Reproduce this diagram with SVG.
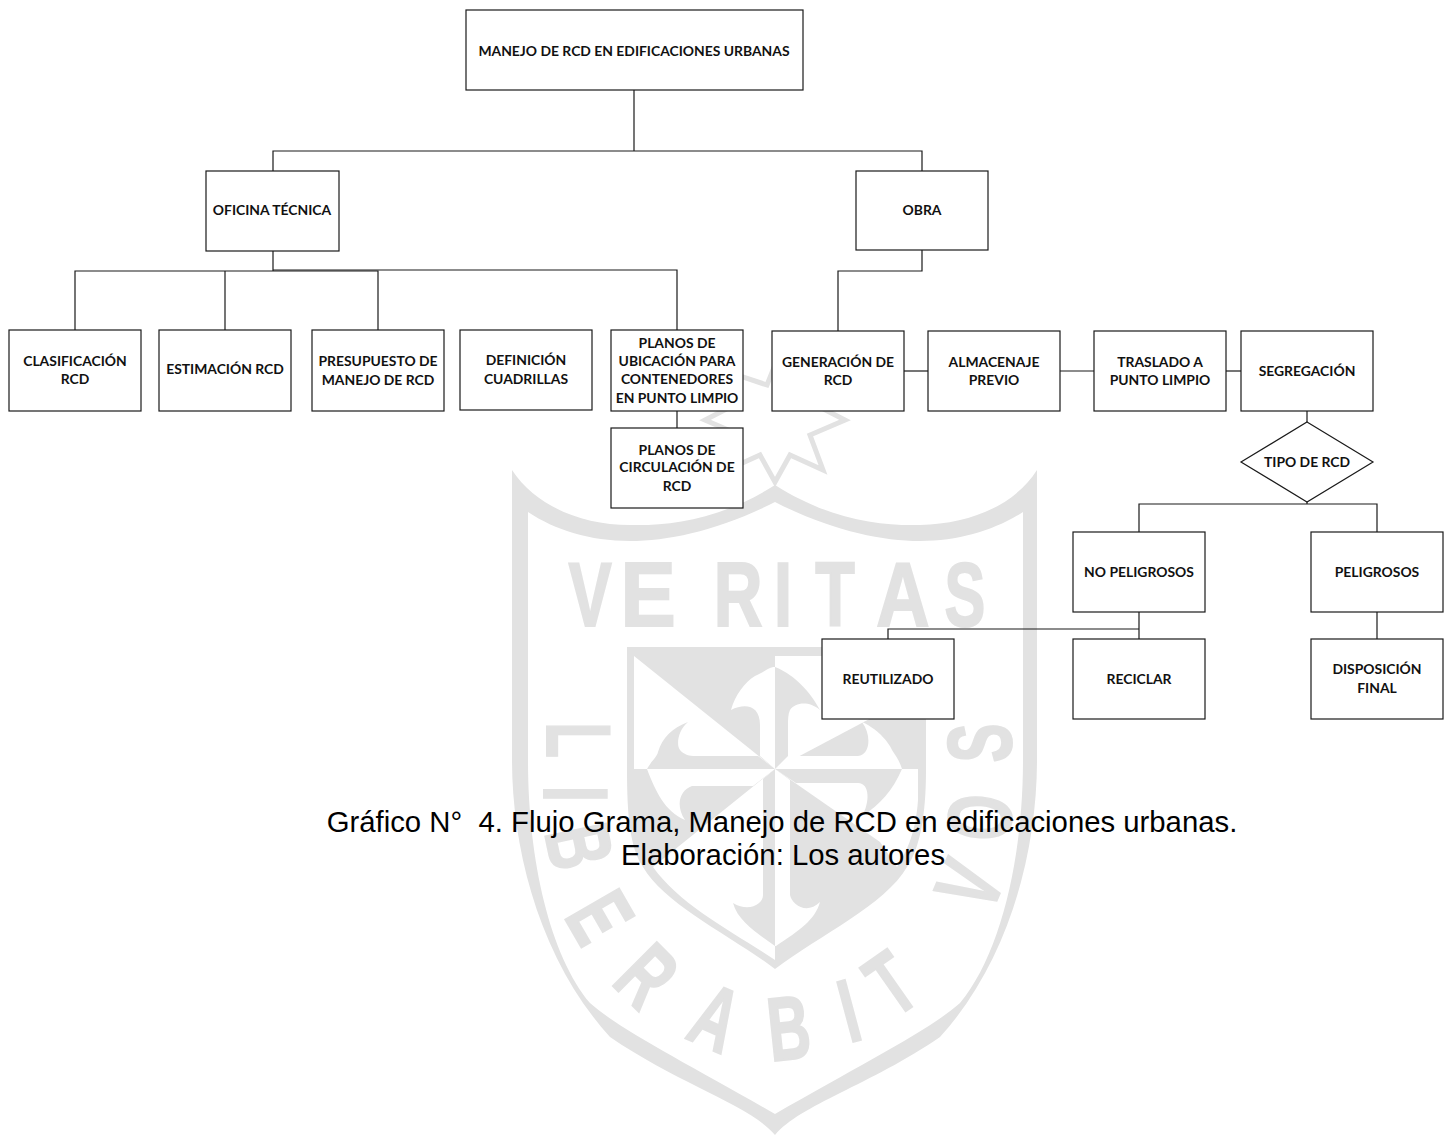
<svg xmlns="http://www.w3.org/2000/svg" width="1454" height="1135" viewBox="0 0 1454 1135">
<style>
.box{fill:#fff;stroke:#1a1a1a;stroke-width:1.2}
.t{font-family:"Lato","Noto Sans",sans-serif;font-weight:700;font-size:13.9px;fill:#111;text-anchor:middle}
.c{font-family:"Liberation Sans",Arial,sans-serif;font-size:29.3px;fill:#000;text-anchor:middle}
.wm{fill:#e2e2e2}
.wh{fill:#fff}
.wl{font-family:"Liberation Sans",Arial,sans-serif;font-weight:700;font-size:90px;fill:#e2e2e2;stroke:#e2e2e2;stroke-width:2;text-anchor:middle}
#connectors path{fill:none;stroke:#1a1a1a;stroke-width:1.2}
</style>
<rect width="1454" height="1135" fill="#fff"/>
<g id="watermark">
<path d="M775,482 L790,455 L823,470 L810,435 L845,420 L810,402 L822,372 L783,385 L775,365 L767,385 L728,372 L740,402 L705,420 L740,435 L727,470 L760,455 Z" fill="none" stroke="#e2e2e2" stroke-width="5"/>
<path class="wm" fill-rule="evenodd" d="M512,470 C535,505 580,525 630,525 C670,526 720,520 775,485 C830,520 880,526 920,525 C970,524 1015,505 1037,470 V760 C1037,850 1010,960 940,1037 C870,1085 800,1105 775,1135 C750,1105 680,1085 610,1037 C540,960 512,850 512,760 Z M528,512 V760 C528,860 550,955 590,1003 C620,1030 690,1065 775,1114 C860,1065 930,1030 960,1003 C1000,955 1023,860 1023,760 V512 C995,530 960,541 920,541 C880,541 830,530 775,502 C720,530 670,541 630,541 C590,541 555,530 528,512 Z"/>
<path class="wm" d="M627,647 H926 V770 C926,815 920,848 907,867 C885,905 820,935 775,969 C730,935 665,905 643,867 C630,848 627,815 627,770 Z"/>
<path class="wh" d="M634,656 L775,769 H634 Z"/>
<path class="wm" d="M647,769 C652,760 657,757 658,752 C662,738 672,728 688,722 C678,730 676,745 680,750 C684,755 690,756 695,756 H758 L775,769 Z"/>
<path class="wh" d="M775,667 C768,667 765,672 755,676 C745,682 735,695 731,710 C745,703 760,705 760,725 V756 L775,769 Z"/>
<path class="wh" d="M775,656 H926 V689 L775,769 Z"/>
<path class="wm" d="M775,667 C785,671 805,682 820,710 C808,700 795,703 790,710 C788,714 788,720 788,725 V756 L775,769 Z"/>
<path class="wh" d="M775,769 L795,756 H858 C870,755 872,735 862,722 C880,730 890,745 892,750 C896,756 900,762 902,769 Z"/>
<path class="wh" d="M775,769 H918 V800 C916,830 908,850 897,867 L880,842 Z"/>
<path class="wm" d="M775,769 H902 C893,790 880,805 862,816 C870,803 870,783 858,783 H796 Z"/>
<path class="wh" d="M775,769 L790,780 V895 C792,905 807,915 820,902 C815,920 800,930 776,946 L775,946 Z"/>
<path class="wh" d="M775,769 L753,786 H692 C680,790 675,805 685,820 C665,812 655,790 647,769 Z"/>
<path class="wh" d="M775,769 L653,867 C680,905 730,930 775,960 Z"/>
<path class="wm" d="M775,769 L763,779 V895 C763,905 748,912 733,903 C738,922 760,935 775,946 Z"/>
<g id="watermark-letters">
<text class="wl" transform="translate(590,626) scale(.72,1)">V</text>
<text class="wl" transform="translate(648,626) scale(.92,1)">E</text>
<text class="wl" transform="translate(738,626) scale(.75,1)">R</text>
<text class="wl" transform="translate(783,626) scale(.72,1)">I</text>
<text class="wl" transform="translate(835,626) scale(.72,1)">T</text>
<text class="wl" transform="translate(903,626) scale(.82,1)">A</text>
<text class="wl" transform="translate(965,626) scale(.68,1)">S</text>
<text class="wl" transform="translate(547,740) rotate(90) scale(.65,1)">L</text>
<text class="wl" transform="translate(544,794) rotate(90) scale(.65,1)">I</text>
<text class="wl" transform="translate(549,853) rotate(78) scale(.65,1)">B</text>
<text class="wl" transform="translate(573,933) rotate(60) scale(.65,1)">E</text>
<text class="wl" transform="translate(625,998) rotate(45) scale(.65,1)">R</text>
<text class="wl" transform="translate(703,1046) rotate(24) scale(.65,1)">A</text>
<text class="wl" transform="translate(792,1059) rotate(-6) scale(.65,1)">B</text>
<text class="wl" transform="translate(857,1041) rotate(-15) scale(.65,1)">I</text>
<text class="wl" transform="translate(909,1009) rotate(-35) scale(.65,1)">T</text>
<text class="wl" transform="translate(998,897) rotate(-67) scale(.65,1)">V</text>
<text class="wl" transform="translate(1011,820) rotate(-85) scale(.65,1)">O</text>
<text class="wl" transform="translate(1011,743) rotate(-90) scale(.65,1)">S</text>
</g>
</g>
<g id="connectors">
<path d="M634,90 V151"/>
<path d="M273,171 V151 H922 V171"/>
<path d="M273,251 V271"/>
<path d="M75,330 V271 H378 V330"/>
<path d="M225,271 V330"/>
<path d="M273,270 H677 V330"/>
<path d="M677,411 V428"/>
<path d="M922,250 V271 H838 V331"/>
<path d="M904,371 H928"/>
<path d="M1060,371 H1094"/>
<path d="M1226,371 H1241"/>
<path d="M1307,411 V422"/>
<path d="M1307,502 V504"/>
<path d="M1139,532 V504 H1377 V532"/>
<path d="M1139,612 V639"/>
<path d="M888,639 V629 H1139"/>
<path d="M1377,612 V639"/>
</g>
<g id="n-manejo"><rect class="box" x="466" y="10" width="337" height="80"/><text class="t" x="634" y="56">MANEJO DE RCD EN EDIFICACIONES URBANAS</text></g>
<g id="n-oficina"><rect class="box" x="206" y="171" width="133" height="80"/><text class="t" x="272" y="215">OFICINA TÉCNICA</text></g>
<g id="n-obra"><rect class="box" x="856" y="171" width="132" height="79"/><text class="t" x="922" y="215">OBRA</text></g>
<g id="n-clasificacion"><rect class="box" x="9" y="330" width="132" height="81"/><text class="t" x="75" y="366">CLASIFICACIÓN<tspan x="75" y="384">RCD</tspan></text></g>
<g id="n-estimacion"><rect class="box" x="159" y="330" width="132" height="81"/><text class="t" x="225" y="374">ESTIMACIÓN RCD</text></g>
<g id="n-presupuesto"><rect class="box" x="312" y="330" width="132" height="81"/><text class="t" x="378" y="366">PRESUPUESTO DE<tspan x="378" y="385">MANEJO DE RCD</tspan></text></g>
<g id="n-definicion"><rect class="box" x="460" y="330" width="132" height="80"/><text class="t" x="526" y="365">DEFINICIÓN<tspan x="526" y="384">CUADRILLAS</tspan></text></g>
<g id="n-planos-ubicacion"><rect class="box" x="611" y="330" width="132" height="81"/><text class="t" x="677" y="348">PLANOS DE<tspan x="677" y="366">UBICACIÓN PARA</tspan><tspan x="677" y="384">CONTENEDORES</tspan><tspan x="677" y="403">EN PUNTO LIMPIO</tspan></text></g>
<g id="n-planos-circulacion"><rect class="box" x="611" y="428" width="132" height="80"/><text class="t" x="677" y="455">PLANOS DE<tspan x="677" y="472">CIRCULACIÓN DE</tspan><tspan x="677" y="491">RCD</tspan></text></g>
<g id="n-generacion"><rect class="box" x="772" y="331" width="132" height="80"/><text class="t" x="838" y="367">GENERACIÓN DE<tspan x="838" y="385">RCD</tspan></text></g>
<g id="n-almacenaje"><rect class="box" x="928" y="331" width="132" height="80"/><text class="t" x="994" y="367">ALMACENAJE<tspan x="994" y="385">PREVIO</tspan></text></g>
<g id="n-traslado"><rect class="box" x="1094" y="331" width="132" height="80"/><text class="t" x="1160" y="367">TRASLADO A<tspan x="1160" y="385">PUNTO LIMPIO</tspan></text></g>
<g id="n-segregacion"><rect class="box" x="1241" y="331" width="132" height="80"/><text class="t" x="1307" y="376">SEGREGACIÓN</text></g>
<g id="n-tipo"><polygon class="box" points="1307,422 1373,462 1307,502 1241,462"/><text class="t" x="1307" y="467">TIPO DE RCD</text></g>
<g id="n-no-peligrosos"><rect class="box" x="1073" y="532" width="132" height="80"/><text class="t" x="1139" y="577">NO PELIGROSOS</text></g>
<g id="n-peligrosos"><rect class="box" x="1311" y="532" width="132" height="80"/><text class="t" x="1377" y="577">PELIGROSOS</text></g>
<g id="n-reutilizado"><rect class="box" x="822" y="639" width="132" height="80"/><text class="t" x="888" y="684">REUTILIZADO</text></g>
<g id="n-reciclar"><rect class="box" x="1073" y="639" width="132" height="80"/><text class="t" x="1139" y="684">RECICLAR</text></g>
<g id="n-disposicion"><rect class="box" x="1311" y="639" width="132" height="80"/><text class="t" x="1377" y="674">DISPOSICIÓN<tspan x="1377" y="693">FINAL</tspan></text></g>
<g id="caption"><text class="c" x="782" y="832" xml:space="preserve">Gráfico N°  4. Flujo Grama, Manejo de RCD en edificaciones urbanas.</text><text class="c" x="783" y="865">Elaboración: Los autores</text></g>
</svg>
